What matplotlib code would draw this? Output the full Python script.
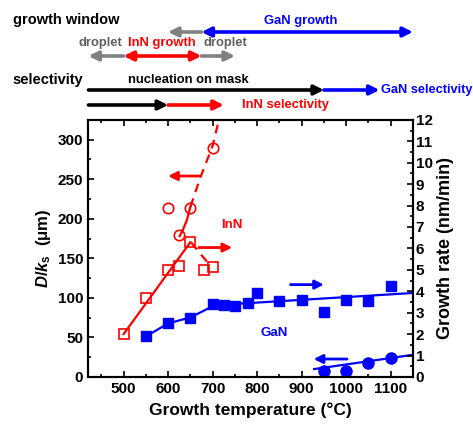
import numpy as np
import matplotlib
matplotlib.use("Agg")
import matplotlib.pyplot as plt
from matplotlib import transforms
from matplotlib.ticker import MultipleLocator

plt.rcParams["font.family"] = ["Liberation Sans", "DejaVu Sans"]
plt.rcParams["font.weight"] = "bold"
plt.rcParams["axes.labelweight"] = "bold"
plt.rcParams["mathtext.fontset"] = "custom"
plt.rcParams["mathtext.it"] = "Liberation Sans:bold:italic"
plt.rcParams["mathtext.rm"] = "Liberation Sans:bold"

RED = "#ff0000"
BLUE = "#0000ff"
GRAY = "#808080"

# ---- data ----
# InN, diffusion length D/ks (left axis, open circles)
inn_d_T = [600, 625, 650, 700]
inn_d = [214, 179, 214, 290]
# InN growth rate (right axis, open squares)
inn_r_T = [500, 550, 600, 625, 650, 680, 700]
inn_r = [2.0, 3.67, 5.0, 5.2, 6.29, 4.97, 5.11]
# GaN growth rate (right axis, filled squares)
gan_r_T = [550, 600, 650, 700, 725, 750, 780, 800, 850, 900, 950, 1000, 1050, 1100]
gan_r = [1.89, 2.5, 2.77, 3.41, 3.38, 3.30, 3.43, 3.92, 3.54, 3.6, 3.03, 3.58, 3.55, 4.26]
# GaN diffusion length D/ks (left axis, filled circles)
gan_d_T = [950, 1000, 1050, 1100]
gan_d = [8, 8, 18, 24]

# guide lines
inn_r_fit_T = [500, 650]
inn_r_fit = [2.0, 6.29]
inn_r_drop_T = [652, 690]
inn_r_drop = [6.27, 5.31]
inn_d_fit_T = [626, 634, 642, 650]
inn_d_fit = [178, 187, 198, 215]
inn_d_ext_T = [650, 673, 700, 714]
inn_d_ext = [215, 253, 292, 325]
gan_r_fit_T = [550, 600, 650, 705, 1150]
gan_r_fit = [1.89, 2.5, 2.78, 3.35, 3.92]
gan_d_fit_T = [928, 1150]
gan_d_fit = [10, 28]

fig = plt.figure(figsize=(4.73, 4.25), dpi=100)
ax = fig.add_axes([0.186, 0.113, 0.687, 0.605])
ax2 = ax.twinx()

# left axis: D/ks
ax.plot(inn_d_fit_T, inn_d_fit, color=RED, lw=1.6)
ax.plot(inn_d_ext_T, inn_d_ext, color=RED, lw=1.6, ls=(0, (4, 3)))
ax.plot(inn_d_T, inn_d, "o", ms=7.5, mfc="none", mec=RED, mew=1.2)
ax.plot(gan_d_fit_T, gan_d_fit, color=BLUE, lw=1.6)
ax.plot(gan_d_T, gan_d, "o", ms=8, color=BLUE)

# right axis: growth rate
ax2.plot(inn_r_fit_T, inn_r_fit, color=RED, lw=1.6)
ax2.plot(inn_r_drop_T, inn_r_drop, color=RED, lw=1.6, ls=(0, (4, 3)))
ax2.plot(inn_r_T, inn_r, "s", ms=7, mfc="none", mec=RED, mew=1.2)
ax2.plot(gan_r_fit_T, gan_r_fit, color=BLUE, lw=1.6)
ax2.plot(gan_r_T, gan_r, "s", ms=7.5, color=BLUE)

arrow_kw = dict(arrowstyle="-|>", lw=2.0, mutation_scale=13, shrinkA=0, shrinkB=0)
ax.annotate("", xy=(600, 254), xytext=(673, 254),
            arrowprops=dict(color=RED, **arrow_kw))
ax2.annotate("", xy=(744, 6.04), xytext=(669, 6.04),
             arrowprops=dict(color=RED, **arrow_kw))
ax2.annotate("", xy=(950, 4.31), xytext=(875, 4.31),
             arrowprops=dict(color=BLUE, **arrow_kw))
ax.annotate("", xy=(927, 22.7), xytext=(1002, 22.7),
            arrowprops=dict(color=BLUE, **arrow_kw))
ax.text(744, 192, "InN", color=RED, fontsize=9.5, ha="center", va="center")
ax.text(838, 55, "GaN", color=BLUE, fontsize=9.5, ha="center", va="center")

ax.set_xlim(420, 1150)
ax.set_ylim(0, 325)
ax2.set_ylim(0, 12)

ax.xaxis.set_major_locator(MultipleLocator(100))
ax.xaxis.set_minor_locator(MultipleLocator(50))
ax.yaxis.set_major_locator(MultipleLocator(50))
ax.yaxis.set_minor_locator(MultipleLocator(25))
ax2.yaxis.set_major_locator(MultipleLocator(1))
ax2.yaxis.set_minor_locator(MultipleLocator(0.5))

ax.tick_params(which="both", direction="in", top=True, labelsize=11, width=1.2)
ax.tick_params(which="major", length=4)
ax.tick_params(which="minor", length=2)
ax2.tick_params(which="both", direction="in", labelsize=11, width=1.2, pad=2)
ax2.tick_params(which="major", length=4)
ax2.tick_params(which="minor", length=2)
for a in (ax, ax2):
    for sp in a.spines.values():
        sp.set_linewidth(1.5)

ax.set_xlabel("Growth temperature (°C)", fontsize=12.5, labelpad=5)
ax.set_ylabel(r"$\mathit{D/k}_{\mathrm{s}}$  (μm)", fontsize=12, labelpad=3)
ax2.set_ylabel("Growth rate (nm/min)", fontsize=13, labelpad=3)

# ---- process windows above the plot ----
trans = transforms.blended_transform_factory(ax.transData, fig.transFigure)


def fy(px):
    return 1 - px / 425.0


def bar(x0, x1, y, color, style="-|>"):
    ax.annotate("", xy=(x1, fy(y)), xytext=(x0, fy(y)), xycoords=trans,
                textcoords=trans, annotation_clip=False,
                arrowprops=dict(arrowstyle=style, color=color, lw=2.6,
                                mutation_scale=14, shrinkA=0, shrinkB=0))


# growth window
fig.text(0.027, fy(20), "growth window", fontsize=10.5, va="center")
bar(675, 1150, 32, BLUE, "<|-|>")
bar(675, 600, 32, GRAY)
ax.text(898, fy(21), "GaN growth", color=BLUE, fontsize=9.4, ha="center",
        va="center", transform=trans)
bar(500, 421, 56, GRAY)
bar(500, 675, 56, RED, "<|-|>")
bar(675, 750, 56, GRAY)
ax.text(448, fy(43), "droplet", color="#606060", fontsize=9.4, ha="center",
        va="center", transform=trans)
ax.text(585, fy(43), "InN growth", color=RED, fontsize=9.4, ha="center",
        va="center", transform=trans)
ax.text(729, fy(43), "droplet", color="#606060", fontsize=9.4, ha="center",
        va="center", transform=trans)

# selectivity
fig.text(0.027, fy(80), "selectivity", fontsize=10.5, va="center")
bar(421, 950, 90, "black")
bar(950, 1075, 90, BLUE)
ax.text(646, fy(80), "nucleation on mask", color="black", fontsize=9.4,
        ha="center", va="center", transform=trans)
ax.text(1078, fy(90), "GaN selectivity", color=BLUE, fontsize=9.2,
        ha="left", va="center", transform=trans)
bar(421, 600, 105, "black")
bar(600, 725, 105, RED)
ax.text(864, fy(105), "InN selectivity", color=RED, fontsize=9.4,
        ha="center", va="center", transform=trans)

fig.savefig("out.png", dpi=100)
